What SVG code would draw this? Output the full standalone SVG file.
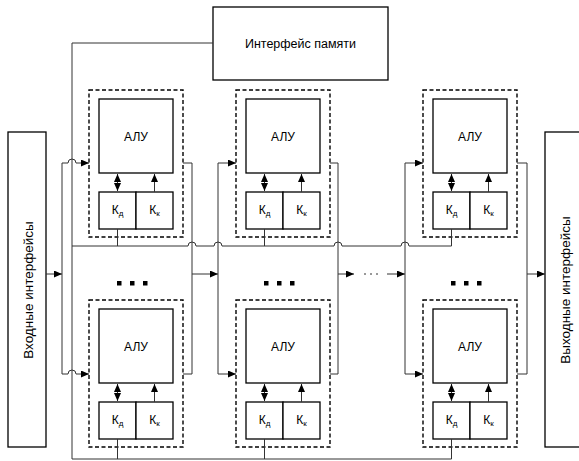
<svg xmlns="http://www.w3.org/2000/svg" width="579" height="461" viewBox="0 0 579 461">
<style>
.box{fill:#fff;stroke:#000;stroke-width:1.3}
.dash{fill:none;stroke:#000;stroke-width:1.4;stroke-dasharray:4,2.5}
.c{fill:none;stroke:#333;stroke-width:1}
.t{font-family:"Liberation Sans",Arial,sans-serif;font-size:12px;fill:#000;text-anchor:middle}
.mt{font-size:12.5px}
.big{font-size:13.5px}
.sub{font-size:8px}
.dot{fill:#000}
</style>
<defs>
<marker id="a" markerWidth="8" markerHeight="7" refX="8" refY="3.5" orient="auto" markerUnits="userSpaceOnUse"><path d="M0,0 L8,3.5 L0,7 z" fill="#000"/></marker>
<marker id="as" markerWidth="8" markerHeight="7" refX="0" refY="3.5" orient="auto" markerUnits="userSpaceOnUse"><path d="M8,0 L0,3.5 L8,7 z" fill="#000"/></marker>
<g id="pe">
<rect class="dash" x="89" y="90" width="94" height="147"/>
<rect class="box" x="99" y="99" width="74" height="74"/>
<text class="t" x="136" y="141">АЛУ</text>
<rect class="box" x="99" y="192" width="37" height="37"/>
<rect class="box" x="136" y="192" width="37" height="37"/>
<text class="t" x="117.5" y="214">К<tspan class="sub" dy="2">д</tspan></text>
<text class="t" x="154.5" y="214">К<tspan class="sub" dy="2">к</tspan></text>
<path class="c" d="M117.5,174 V191" marker-start="url(#as)" marker-end="url(#a)"/>
<path class="c" d="M154.5,192 V174" marker-end="url(#a)"/>
</g>
</defs>
<g id="mem"><rect class="box" x="213" y="7" width="175" height="73"/><text class="t mt" x="300.5" y="48">Интерфейс памяти</text></g>
<g id="in"><rect class="box" x="8" y="132" width="38" height="315"/><text class="t big" transform="translate(32.5,290) rotate(-90)">Входные интерфейсы</text></g>
<g id="out"><rect class="box" x="545" y="132" width="40" height="315"/><text class="t big" transform="translate(569.5,290) rotate(-90)">Выходные интерфейсы</text></g>
<g id="pe11"><use href="#pe"/></g>
<g id="pe12"><use href="#pe" x="147"/></g>
<g id="pe13"><use href="#pe" x="334"/></g>
<g id="pe21"><use href="#pe" y="210"/></g>
<g id="pe22"><use href="#pe" x="147" y="210"/></g>
<g id="pe23"><use href="#pe" x="334" y="210"/></g>
<g id="dots">
<rect class="dot" x="117" y="281" width="4.5" height="4.5"/><rect class="dot" x="130" y="281" width="4.5" height="4.5"/><rect class="dot" x="143" y="281" width="4.5" height="4.5"/>
<rect class="dot" x="264" y="281" width="4.5" height="4.5"/><rect class="dot" x="277" y="281" width="4.5" height="4.5"/><rect class="dot" x="290" y="281" width="4.5" height="4.5"/>
<rect class="dot" x="451" y="281" width="4.5" height="4.5"/><rect class="dot" x="464" y="281" width="4.5" height="4.5"/><rect class="dot" x="477" y="281" width="4.5" height="4.5"/>
</g>
<g id="connectors">
<path class="c" d="M213,43 H72 V459 H451.5"/>
<path class="c" d="M117.5,439 V459 M264.5,439 V459 M451.5,439 V459"/>
<path class="c" d="M72,246 H188 A4,4 0 0 1 196,246 H214 A4,4 0 0 1 222,246 H334 A4,4 0 0 1 342,246 H401 A4,4 0 0 1 409,246 H451.5"/>
<path class="c" d="M117.5,229 V246 M264.5,229 V246 M451.5,229 V246"/>
<path class="c" d="M46,274 H62" marker-end="url(#a)"/>
<path class="c" d="M62,163 V374"/>
<path class="c" d="M62,163 H68 A4,4 0 0 1 76,163 H89" marker-end="url(#a)"/>
<path class="c" d="M62,374 H68 A4,4 0 0 1 76,374 H89" marker-end="url(#a)"/>
<path class="c" d="M183,163 H192 V374 H183"/>
<path class="c" d="M192,274 H218" marker-end="url(#a)"/>
<path class="c" d="M218,163 V374"/>
<path class="c" d="M218,163 H236" marker-end="url(#a)"/>
<path class="c" d="M218,374 H236" marker-end="url(#a)"/>
<path class="c" d="M330,163 H338 V374 H330"/>
<path class="c" d="M338,274 H354" marker-end="url(#a)"/>
<path class="c" d="M364,274 H381" stroke-dasharray="2,4"/>
<path class="c" d="M387,274 H405" marker-end="url(#a)"/>
<path class="c" d="M405,163 V374"/>
<path class="c" d="M405,163 H423" marker-end="url(#a)"/>
<path class="c" d="M405,374 H423" marker-end="url(#a)"/>
<path class="c" d="M517,163 H527 V374 H517"/>
<path class="c" d="M527,274 H545" marker-end="url(#a)"/>
</g>
</svg>
